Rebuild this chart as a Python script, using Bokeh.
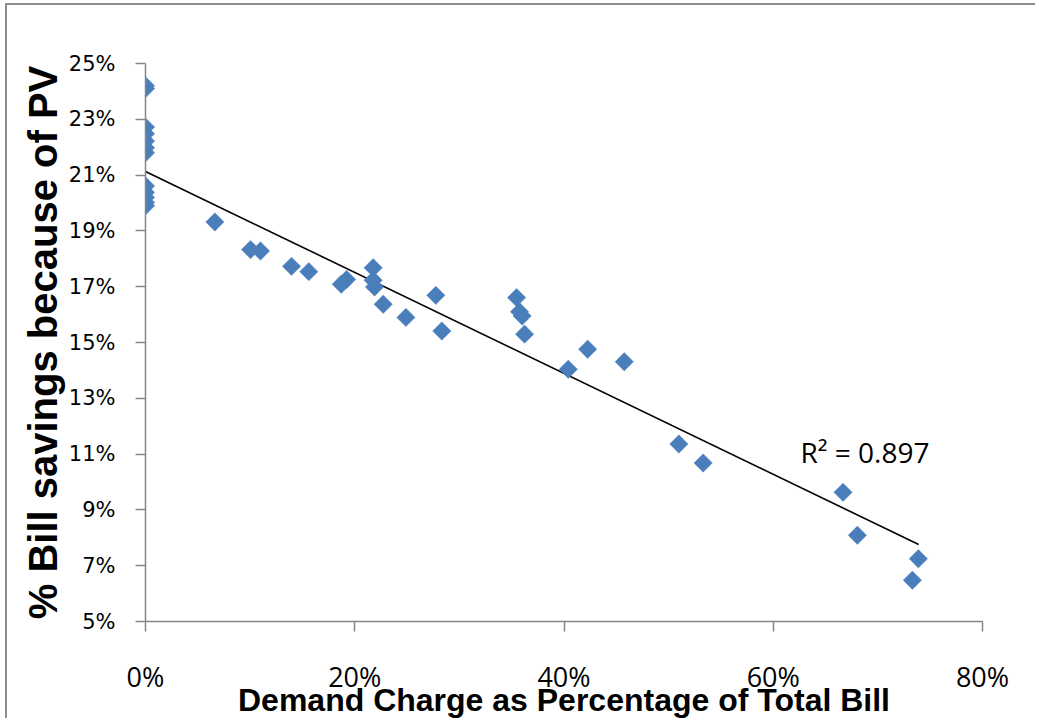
import numpy as np
from bokeh.plotting import figure
from bokeh.models import Range1d, FixedTicker, PrintfTickFormatter, Label
from bokeh.embed import file_html
from bokeh.resources import INLINE

# Demand charge as % of total bill (x) and % bill savings because of PV (y)
demand_pct = [0, 0, 0, 0, 0, 0, 0, 0, 0, 0, 0, 0,
              6.63, 10.04, 10.99, 13.96, 15.61, 18.71, 19.22, 21.76, 21.76, 21.89,
              22.72, 24.89, 27.75, 28.32, 35.47, 35.75, 36.0, 36.23, 40.41, 42.26,
              45.76, 50.98, 53.3, 66.67, 68.04, 73.87, 73.3]
savings_pct = [24.2, 24.1, 22.72, 22.48, 22.22, 21.98, 21.8, 20.61, 20.38, 20.2, 20.02, 19.9,
               19.32, 18.33, 18.28, 17.73, 17.54, 17.09, 17.26, 17.68, 17.23, 16.99,
               16.37, 15.90, 16.69, 15.41, 16.61, 16.1, 15.95, 15.30, 14.04, 14.76,
               14.31, 11.36, 10.68, 9.63, 8.09, 7.25, 6.48]
# linear trendline as drawn in the chart (end points)
trend_x = [0, 73.9]
trend_y = [21.13, 7.76]
x_ticks = [0, 20, 40, 60, 80]
y_ticks = [5, 7, 9, 11, 13, 15, 17, 19, 21, 23, 25]
r2_text = "R² = 0.897"

p = figure(width=1030, height=715, output_backend="svg", toolbar_location=None,
           x_range=Range1d(0, 80), y_range=Range1d(5, 25),
           min_border_left=138, min_border_right=55, min_border_top=58, min_border_bottom=98,
           styles={"border-left": "2px solid #8c8c8c", "border-top": "2px solid #8c8c8c",
                   "margin-left": "5px", "margin-top": "3px"})
p.outline_line_color = None
p.xgrid.grid_line_color = None
p.ygrid.grid_line_color = None
p.background_fill_color = "white"
p.border_fill_color = "white"

p.line(trend_x, trend_y, line_color="black", line_width=1.6)

p.scatter(demand_pct, savings_pct, marker="square", size=13, angle=np.pi / 4,
          fill_color="#4A7EBB", line_color="#5A8BC4", line_width=0.5)

p.add_layout(Label(x=62.6, y=11.08, text=r2_text, text_font="Open Sans",
                   text_font_size="28px", text_color="black", text_baseline="alphabetic"))

for ax in (p.xaxis[0], p.yaxis[0]):
    ax.axis_line_color = "#868686"
    ax.axis_line_width = 1.5
    ax.major_tick_line_color = "#868686"
    ax.major_tick_line_width = 1.5
    ax.major_tick_out = 10
    ax.major_tick_in = 0
    ax.minor_tick_line_color = None
    ax.formatter = PrintfTickFormatter(format="%d%%")
    ax.major_label_text_color = "black"
    ax.axis_label_text_color = "black"
    ax.axis_label_text_font_style = "bold"

p.xaxis.ticker = FixedTicker(ticks=x_ticks)
p.yaxis.ticker = FixedTicker(ticks=y_ticks)

p.xaxis.axis_label = "Demand Charge as Percentage of Total Bill"
p.xaxis.axis_label_text_font = "Liberation Sans"
p.xaxis.axis_label_text_font_size = "32px"
p.xaxis.axis_label_standoff = -16
p.xaxis.major_label_text_font = "Open Sans"
p.xaxis.major_label_text_font_size = "27px"
p.xaxis.major_label_standoff = 26

p.yaxis.axis_label = "% Bill savings because of PV"
p.yaxis.axis_label_text_font = "Liberation Sans"
p.yaxis.axis_label_text_font_size = "40px"
p.yaxis.axis_label_standoff = 1
p.yaxis.major_label_text_font = "DejaVu Sans"
p.yaxis.major_label_text_font_size = "21px"
p.yaxis.major_label_standoff = 20

open("out.html", "w").write(file_html(p, INLINE))
